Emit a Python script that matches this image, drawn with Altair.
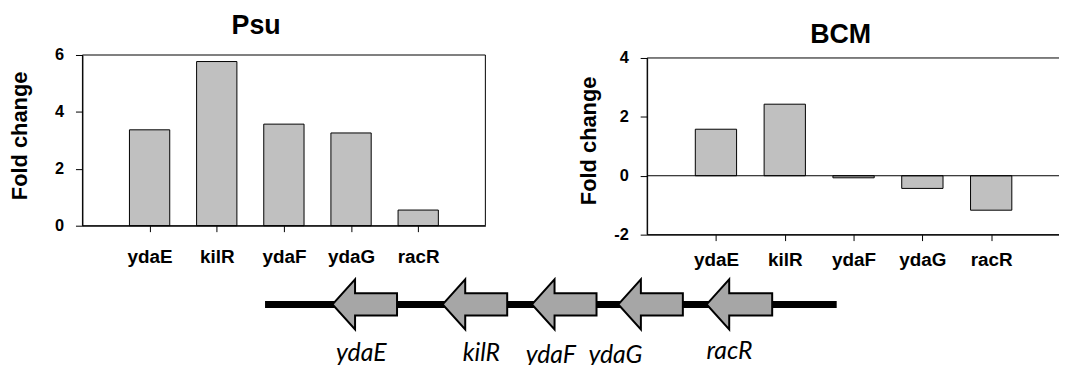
import json
import pandas as pd
import altair as alt

# ---------------- data ----------------
genes = ["ydaE", "kilR", "ydaF", "ydaG", "racR"]
psu_fold = [3.37, 5.77, 3.57, 3.26, 0.55]
bcm_fold = [1.58, 2.43, -0.07, -0.43, -1.17]
psu_ticks = [0, 2, 4, 6]
bcm_ticks = [-2, 0, 2, 4]

# gene map (arbitrary locus units, genes on the minus strand: tip on the left)
locus_span = [0, 576]
gene_left = [68, 179, 269, 356, 445]
gene_right = [133, 244, 334, 421, 511]
label_x = [97, 218, 288, 353, 468]
label_y = [-57, -57, -59, -59, -55]

# ---------------- layout (pixels in chart coords) ----------------
W, H = 1059, 357
FONT = "Liberation Sans"
L_XR, L_YR = [75, 481], [218, 46]
R_XR, R_YR = [644, 1060], [227, 49]
G_XR, G_YR = [259, 835], [327.3, 267.3]
HEAD, HEAD_H, BODY_H = 22.7, 25.3, 11.3

xdom = [0, len(genes) + 1]
label_expr = json.dumps(genes) + "[datum.value - 1]"

common_axis = dict(domainColor="black", tickColor="black", labelColor="black",
                   titleColor="black", grid=False, domainWidth=1, tickWidth=1,
                   labelFont=FONT, labelFontWeight="bold", titleFont=FONT,
                   titleFontWeight="bold")


def bar_df(vals):
    pos = list(range(1, len(genes) + 1))
    return pd.DataFrame({"gene": genes, "fold": vals, "pos": pos,
                         "lo": [p - 0.3 for p in pos], "hi": [p + 0.3 for p in pos]})


def panel(vals, ydom, yticks, xr, yr, title, title_xy, title_pos, xlab_pad, with_zero):
    xs = alt.Scale(domain=xdom, range=xr, nice=False, zero=False)
    ys = alt.Scale(domain=ydom, range=yr, nice=False, zero=False)
    xaxis = alt.Axis(orient="bottom", offset=-(H - yr[0]), values=list(range(1, len(genes) + 1)),
                     labelExpr=label_expr, tickSize=6, labelPadding=xlab_pad,
                     labelBaseline="alphabetic", labelFontSize=19, labelFlush=False,
                     labelOverlap=False, title=None, **common_axis)
    yaxis = alt.Axis(orient="left", offset=-xr[0], values=yticks, labelExpr="'' + datum.value",
                     tickSize=7, labelPadding=12, labelFontSize=16.5, title="Fold change",
                     titleFontSize=22, titleX=title_xy[0], titleY=title_xy[1],
                     titleBaseline="bottom", **common_axis)
    bars = alt.Chart(bar_df(vals)).mark_bar(fill="#c0c0c0", stroke="black", strokeWidth=1).encode(
        x=alt.X("lo:Q", scale=xs, axis=xaxis), x2="hi:Q",
        y=alt.Y("fold:Q", scale=ys, axis=yaxis, stack=False), y2=alt.datum(0))
    fdf = pd.DataFrame({"x0": [xdom[0]], "x1": [xdom[1]], "y0": [ydom[0]], "y1": [ydom[1]], "z": [0]})
    frame = alt.Chart(fdf).mark_rect(fillOpacity=0, stroke="black", strokeWidth=1).encode(
        x=alt.X("x0:Q", scale=xs, axis=None), x2="x1:Q",
        y=alt.Y("y0:Q", scale=ys, axis=None), y2="y1:Q")
    ttl = alt.Chart(pd.DataFrame({"t": [title]})).mark_text(
        font=FONT, fontSize=27, fontWeight="bold", align="center", baseline="alphabetic",
        color="black").encode(text="t:N", x=alt.value(title_pos[0]), y=alt.value(title_pos[1]))
    out = [bars, frame, ttl]
    if with_zero:
        zero = alt.Chart(fdf).mark_rule(color="black", strokeWidth=1).encode(
            x=alt.X("x0:Q", scale=xs, axis=None), x2="x1:Q",
            y=alt.Y("z:Q", scale=ys, axis=None))
        out.insert(1, zero)
    return out


left = panel(psu_fold, [0, 6], psu_ticks, L_XR, L_YR, "Psu", (-51.3, 127), (250, 25.3), 31, False)
right = panel(bcm_fold, [-2, 4], bcm_ticks, R_XR, R_YR, "BCM", (-47, 132), (839, 33.7), 25, True)

# ---------------- gene diagram ----------------
gxs = alt.Scale(domain=locus_span, range=G_XR, nice=False, zero=False)
gys = alt.Scale(domain=[-30, 30], range=G_YR, nice=False, zero=False)

rows = []
for g, l, r in zip(genes, gene_left, gene_right):
    pts = [(l, 0, 0), (l + HEAD, HEAD_H, -HEAD_H), (l + HEAD + 0.01, BODY_H, -BODY_H),
           (r, BODY_H, -BODY_H)]
    for x, yt, yb in pts:
        rows.append({"gene": g, "x": x, "yt": yt, "yb": yb})
arrow_df = pd.DataFrame(rows)

line_df = pd.DataFrame({"x0": [locus_span[0]], "x1": [locus_span[1]], "y": [0]})
gline = alt.Chart(line_df).mark_rule(color="black", strokeWidth=7, strokeCap="butt").encode(
    x=alt.X("x0:Q", scale=gxs, axis=None), x2="x1:Q", y=alt.Y("y:Q", scale=gys, axis=None))

arrows = alt.Chart(arrow_df).mark_area(fill="#a6a6a6", stroke="black", strokeWidth=2,
                                       strokeJoin="miter", interpolate="linear", opacity=1).encode(
    x=alt.X("x:Q", scale=gxs, axis=None),
    y=alt.Y("yt:Q", scale=gys, axis=None, stack=False), y2="yb:Q",
    detail="gene:N")

lab_df = pd.DataFrame({"gene": genes, "lx": label_x, "ly": label_y})
glabels = alt.Chart(lab_df).mark_text(font="Lato", fontStyle="italic", fontSize=25,
                                      align="center", baseline="alphabetic", color="black").encode(
    x=alt.X("lx:Q", scale=gxs, axis=None), y=alt.Y("ly:Q", scale=gys, axis=None), text="gene:N")

chart = alt.layer(*left, *right, gline, arrows, glabels).resolve_scale(
    x="independent", y="independent").resolve_axis(
    x="independent", y="independent").properties(
    width=W, height=H, padding=0, autosize=alt.AutoSizeParams(type="none")
).configure_view(stroke=None)

chart.save("out.html", embed_options={"renderer": "svg", "actions": False})
